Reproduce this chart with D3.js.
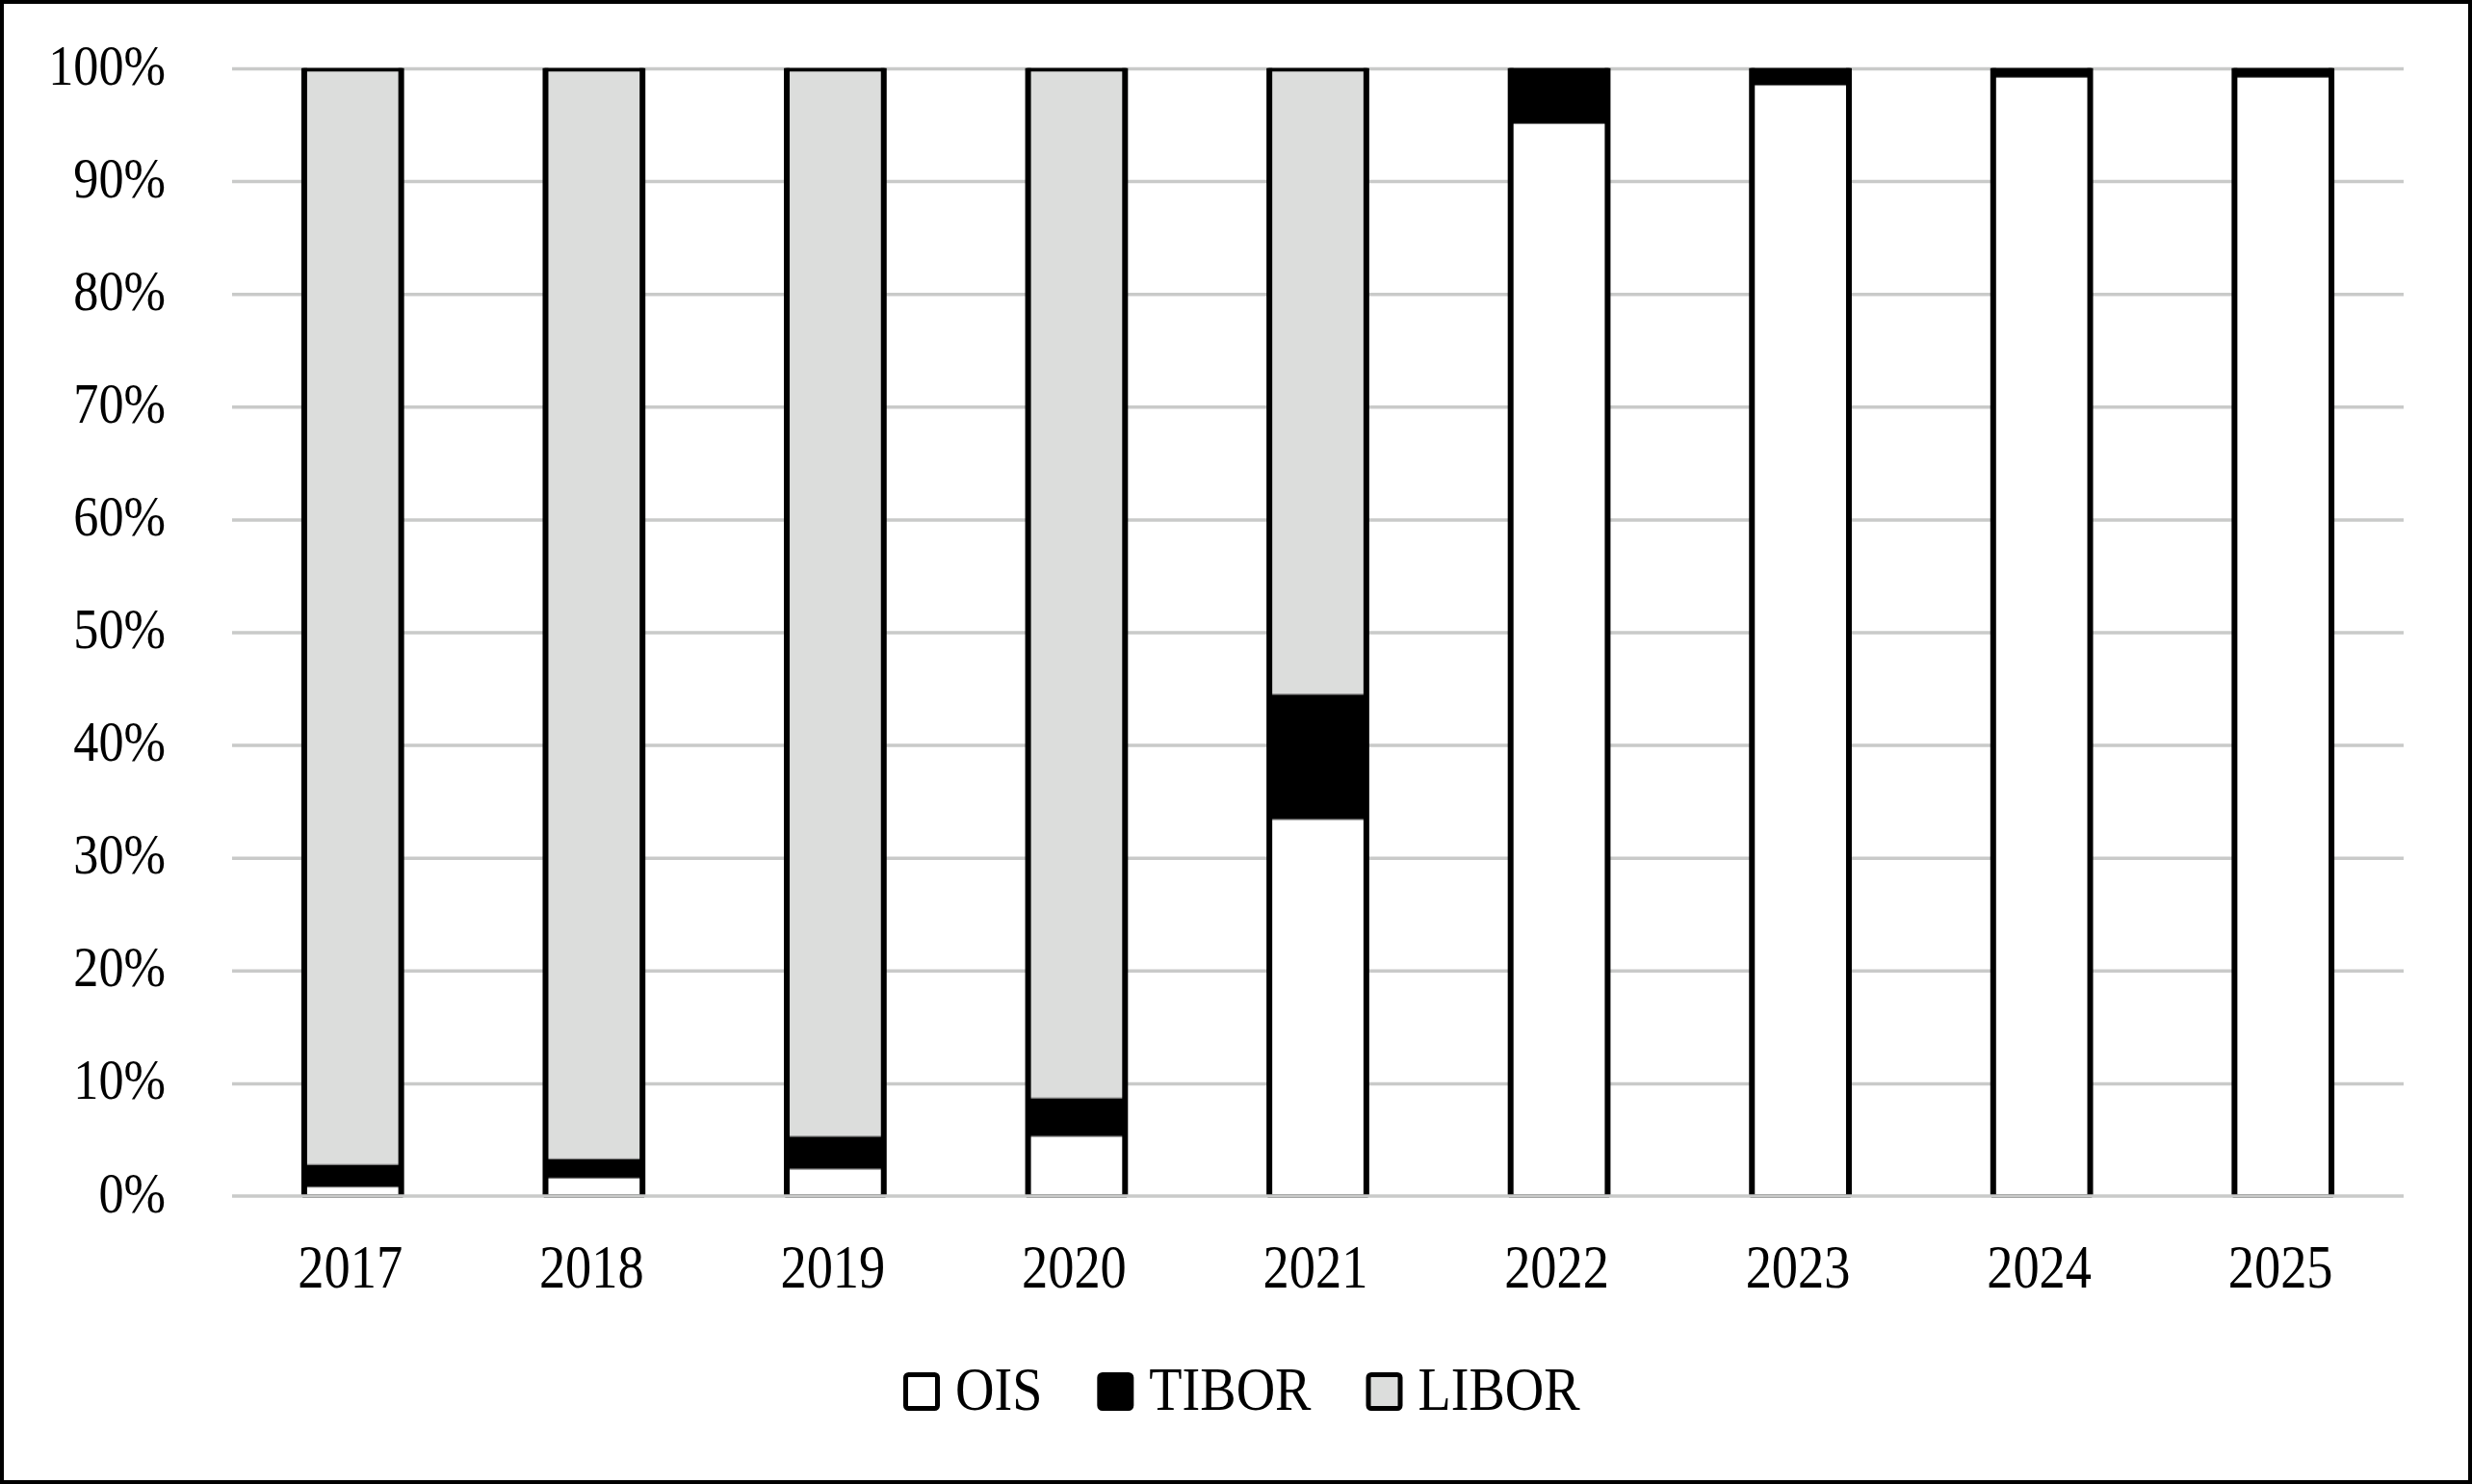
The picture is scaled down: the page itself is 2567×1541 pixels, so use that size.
<!DOCTYPE html>
<html>
<head>
<meta charset="utf-8">
<script src="https://cdn.jsdelivr.net/npm/d3@7"></script>
<style>
  html, body { margin: 0; padding: 0; background: #fff; }
  svg { display: block; }
  text { font-family: "Liberation Serif", "DejaVu Serif", serif; fill: #000; }
</style>
</head>
<body>
<script>
// ---- data ----
const years = ["2017", "2018", "2019", "2020", "2021", "2022", "2023", "2024", "2025"];
const ois   = [0.8, 1.6, 2.4, 5.3, 33.4, 95.1, 98.5, 99.2, 99.2];
const tibor = [2.0, 1.7, 2.9, 3.4, 11.1, 4.9, 1.5, 0.8, 0.8];
const libor = [97.2, 96.7, 94.7, 91.3, 55.5, 0, 0, 0, 0];
const seriesNames = ["OIS", "TIBOR", "LIBOR"];
const yTicks = [0, 10, 20, 30, 40, 50, 60, 70, 80, 90, 100];

// ---- layout ----
const W = 2567, H = 1541;
const plotL = 241, plotR = 2496, plotT = 71, plotB = 1242;
const colors = { OIS: "#ffffff", TIBOR: "#000000", LIBOR: "#dcdddc" };
const gridColor = "#c9cac9";

const svg = d3.select("body").append("svg").attr("width", W).attr("height", H);
svg.append("rect").attr("x", 0).attr("y", 0).attr("width", W).attr("height", H).attr("fill", "#fff");

const x = d3.scaleBand().domain(years).range([plotL, plotR]).paddingInner(0.598).paddingOuter(0.299);
const y = d3.scaleLinear().domain([0, 100]).range([plotB, plotT]);

// gridlines
const grid = svg.append("g").attr("transform", `translate(${plotL},0)`)
  .call(d3.axisLeft(y).tickValues(yTicks.filter(d => d > 0)).tickSize(-(plotR - plotL)).tickFormat(""));
grid.select(".domain").remove();
grid.selectAll("line").attr("stroke", gridColor).attr("stroke-width", 3.5);

// y axis labels
const yScaleX = 0.87;
const yAxis = svg.append("g").attr("transform", `translate(172,0)`)
  .call(d3.axisLeft(y).tickValues(yTicks).tickSize(0).tickPadding(0).tickFormat(d => d + "%"));
yAxis.select(".domain").remove();
yAxis.selectAll("text")
  .attr("x", 0).attr("y", 16).attr("dy", null)
  .attr("text-anchor", "end")
  .attr("transform", `scale(${yScaleX},1)`)
  .style("font-size", "60px");

// stacked data
const rows = years.map((yr, i) => ({ year: yr, OIS: ois[i], TIBOR: tibor[i], LIBOR: libor[i] }));
const stack = d3.stack().keys(seriesNames)(rows);
const total = d => d.OIS + d.TIBOR + d.LIBOR;

const bars = svg.append("g");
stack.forEach(layer => {
  bars.append("g").selectAll("rect").data(layer.filter(d => d[1] - d[0] > 0)).join("rect")
    .attr("x", d => x(d.data.year))
    .attr("width", x.bandwidth())
    .attr("y", d => y(d[1]))
    .attr("height", d => y(d[0]) - y(d[1]))
    .attr("fill", colors[layer.key])
    .attr("stroke", "#7a7a7a")
    .attr("stroke-width", 1);
});
// bar outlines
bars.append("g").selectAll("rect").data(rows).join("rect")
  .attr("x", d => x(d.year))
  .attr("width", x.bandwidth())
  .attr("y", d => y(total(d)) + 1.5)
  .attr("height", d => y(0) - y(total(d)) - 1.5)
  .attr("fill", "none")
  .attr("stroke", "#000")
  .attr("stroke-width", 3.5);
// thicker side edges
const sides = bars.append("g");
rows.forEach(d => {
  [x(d.year), x(d.year) + x.bandwidth()].forEach(sx => {
    sides.append("line")
      .attr("x1", sx).attr("x2", sx)
      .attr("y1", y(total(d)) - 0.25).attr("y2", y(0))
      .attr("stroke", "#000").attr("stroke-width", 6);
  });
});

// baseline (0%) on top
svg.append("line").attr("x1", plotL).attr("x2", plotR).attr("y1", y(0)).attr("y2", y(0))
  .attr("stroke", gridColor).attr("stroke-width", 3.5);

// x axis labels
const xAxis = svg.append("g").attr("transform", `translate(0,${plotB})`)
  .call(d3.axisBottom(x).tickSize(0).tickPadding(0));
xAxis.select(".domain").remove();
xAxis.selectAll(".tick text")
  .attr("x", -3).attr("y", 95).attr("dy", null).attr("text-anchor", "middle")
  .attr("transform", "scale(0.85,1)")
  .style("font-size", "64px");

// legend
const legend = svg.append("g");
const legScale = 0.89;
let lx = 938;
seriesNames.forEach(name => {
  legend.append("rect")
    .attr("x", lx + 2.5).attr("y", 1427.5).attr("width", 33).attr("height", 35)
    .attr("rx", 3).attr("ry", 3)
    .attr("fill", colors[name]).attr("stroke", "#000").attr("stroke-width", 5);
  const tx = lx + 54;
  const t = legend.append("text")
    .attr("x", tx / legScale).attr("y", 1464)
    .attr("transform", `scale(${legScale},1)`)
    .style("font-size", "63px")
    .text(name);
  const w = t.node().getComputedTextLength() * legScale;
  lx = tx + w + 57;
});

// outer frame
svg.append("rect").attr("x", 2).attr("y", 2).attr("width", W - 4).attr("height", H - 4)
  .attr("fill", "none").attr("stroke", "#000").attr("stroke-width", 4);
</script>
</body>
</html>
